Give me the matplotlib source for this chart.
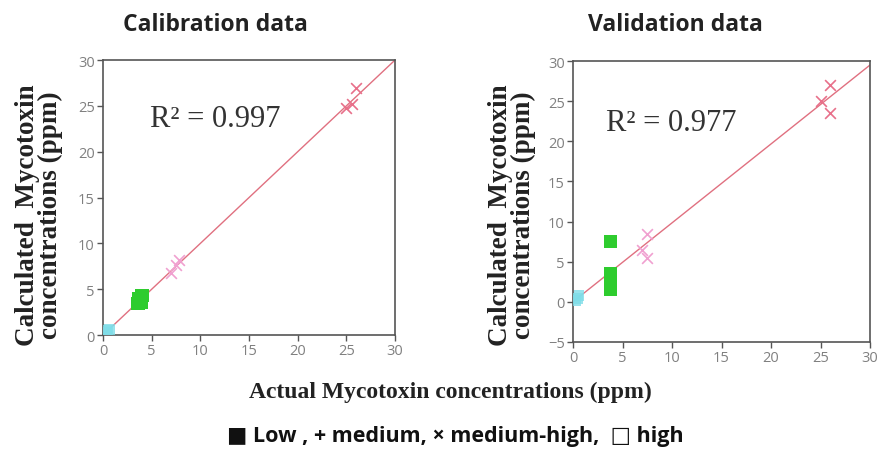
import matplotlib
matplotlib.use("Agg")
import matplotlib.pyplot as plt
import numpy as np

# Calibration data
cal_high_x = [0.4, 0.7, 0.5]
cal_high_y = [0.3, 0.6, 0.5]
cal_low_x = [3.6, 3.8, 4.0, 3.7, 3.9]
cal_low_y = [3.4, 3.8, 4.3, 4.0, 3.6]
cal_med_x = [7.0, 7.5, 7.8]
cal_med_y = [6.8, 7.6, 8.2]
cal_mh_x = [25.0, 25.6, 26.0]
cal_mh_y = [24.8, 25.2, 27.0]
cal_fit = [0.0, 30.0]
cal_r2 = "R² = 0.997"

# Validation data
val_high_x = [0.3, 0.6, 0.5]
val_high_y = [0.2, 0.8, 0.4]
val_low_x = [3.8, 3.8, 3.8, 3.8]
val_low_y = [7.5, 3.5, 2.5, 1.5]
val_med_x = [7.5, 7.0, 7.5]
val_med_y = [8.5, 6.5, 5.5]
val_mh_x = [25.0, 26.0, 26.0]
val_mh_y = [25.0, 27.0, 23.5]
val_fit_x = [0.0, 30.0]
val_fit_y = [0.0, 29.5]
val_r2 = "R² = 0.977"

titles = ["Calibration data", "Validation data"]
ylabel = "Calculated  Mycotoxin\nconcentrations (ppm)"
xlabel = "Actual Mycotoxin concentrations (ppm)"
legend_text = "■ Low , + medium, × medium-high,  □ high"

fig = plt.figure(figsize=(8.82, 4.56), dpi=100)
ax1 = fig.add_axes([0.1168, 0.263, 0.331, 0.603])
ax2 = fig.add_axes([0.6497, 0.248, 0.3367, 0.616])

serif = "Liberation Serif"
sans = "Open Sans"

def style(ax):
    for s in ax.spines.values():
        s.set_color("#555555")
        s.set_linewidth(1.2)
    ax.tick_params(direction="out", length=4, width=1, colors="#555555",
                   labelsize=10.5, labelcolor="#808080", pad=2)
    for lab in ax.get_xticklabels() + ax.get_yticklabels():
        lab.set_fontfamily(sans)

def draw(ax, hx, hy, lx, ly, mx, my, mhx, mhy, fx, fy, r2, r2pos, ylim, yticks):
    ax.plot(fx, fy, color="#e07080", lw=1.0, zorder=2)
    ax.scatter(hx, hy, marker="s", s=60, color="#7fdde8", alpha=0.8, zorder=3, edgecolors="none")
    ax.scatter(lx, ly, marker="s", s=90, color="#2ecc2e", zorder=3, edgecolors="none")
    ax.scatter(mx, my, marker="x", s=60, color="#f0a0d0", linewidths=1.2, zorder=3)
    ax.scatter(mhx, mhy, marker="x", s=60, color="#e8708a", linewidths=1.2, zorder=3)
    ax.set_xlim(0, 30)
    ax.set_ylim(*ylim)
    ax.set_xticks([0, 5, 10, 15, 20, 25, 30])
    ax.set_yticks(yticks)
    ax.text(r2pos[0], r2pos[1], r2, fontfamily=serif, fontsize=22, color="#333333",
            va="center", ha="left")
    style(ax)

draw(ax1, cal_high_x, cal_high_y, cal_low_x, cal_low_y, cal_med_x, cal_med_y,
     cal_mh_x, cal_mh_y, cal_fit, cal_fit, cal_r2, (4.8, 23.6), (0, 30),
     [0, 5, 10, 15, 20, 25, 30])
draw(ax2, val_high_x, val_high_y, val_low_x, val_low_y, val_med_x, val_med_y,
     val_mh_x, val_mh_y, val_fit_x, val_fit_y, val_r2, (3.3, 22.4), (-5, 30),
     [-5, 0, 5, 10, 15, 20, 25, 30])

# titles
fig.text(215 / 882, 1 - 25 / 456, titles[0], fontfamily=sans, fontweight="bold",
         fontsize=16.5, ha="center", va="center", color="#222222")
fig.text(675 / 882, 1 - 25 / 456, titles[1], fontfamily=sans, fontweight="bold",
         fontsize=16.5, ha="center", va="center", color="#222222")

# y labels
for xc in (39, 512):
    fig.text(xc / 882, 1 - 215 / 456, ylabel, fontfamily=serif, fontweight="bold",
             fontsize=19.5, rotation=90, ha="center", va="center",
             linespacing=0.85, multialignment="center", color="#222222")

fig.text(450 / 882, 1 - 392 / 456, xlabel, fontfamily=serif, fontweight="bold",
         fontsize=17, ha="center", va="center", color="#222222")
fig.text(455 / 882, 1 - 437 / 456, legend_text, fontfamily=[sans, "DejaVu Sans"],
         fontweight="bold", fontsize=15.5, ha="center", va="center", color="#111111")

fig.savefig("out.png", dpi=100)
